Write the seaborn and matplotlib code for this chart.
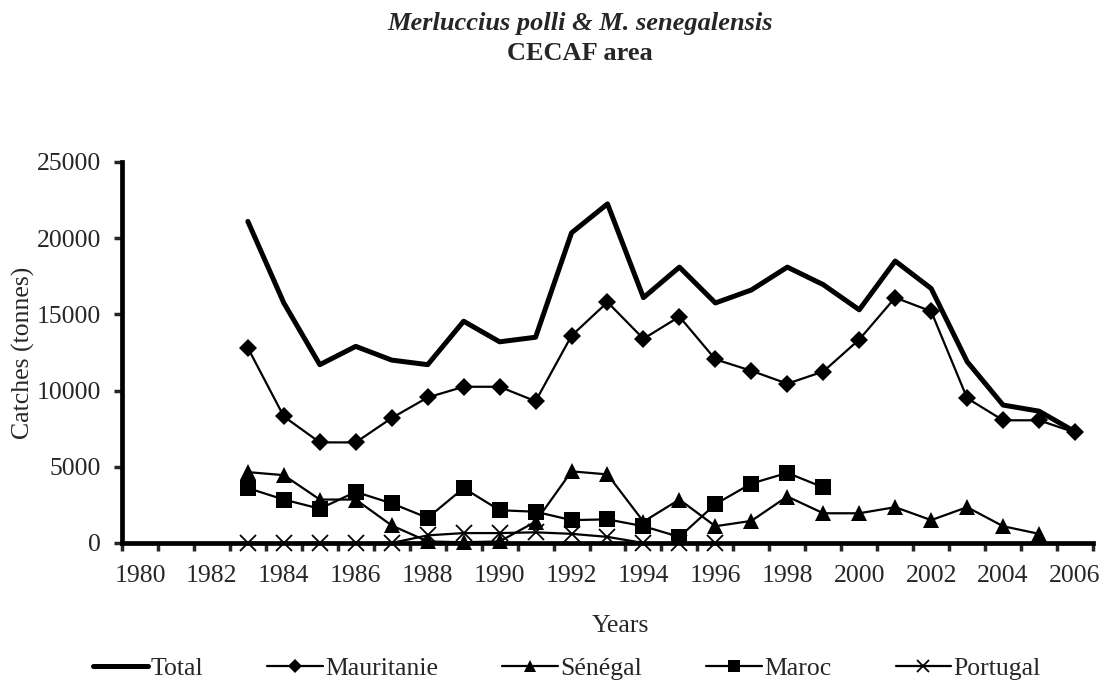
import numpy as np
import pandas as pd
import seaborn as sns
import matplotlib.pyplot as plt

years = list(range(1983, 2007))
nan = np.nan

# catches in tonnes, 1983-2006
total = [21100, 15750, 11700, 12900, 12000, 11700, 14550, 13200, 13500, 20350, 22250, 16100,
         18100, 15750, 16600, 18100, 16950, 15300, 18500, 16700, 11900, 9050, 8650, 7300]
mauritanie = [12800, 8300, 6600, 6600, 8200, 9550, 10250, 10250, 9300, 13600, 15800, 13400,
              14850, 12050, 11300, 10450, 11250, 13350, 16100, 15200, 9500, 8050, 8050, 7250]
senegal = [4650, 4450, 2850, 2850, 1150, 100, 50, 100, 1400, 4700, 4500, 1400,
           2850, 1100, 1450, 3050, 1950, 1950, 2350, 1500, 2350, 1100, 600, nan]
maroc = [3600, 2850, 2250, 3350, 2600, 1650, 3600, 2150, 2050, 1500, 1550, 1100,
         400, 2550, 3900, 4600, 3650] + [nan] * 7
portugal = [0, 0, 0, 0, 0, 500, 650, 650, 700, 600, 400, 0, 0, 0] + [nan] * 10

series = {
    "Total": total,
    "Mauritanie": mauritanie,
    "Sénégal": senegal,
    "Maroc": maroc,
    "Portugal": portugal,
}

sns.set_style("white")
plt.rcParams['font.family'] = ['Liberation Serif', 'DejaVu Serif']
fs = 18.5

fig = plt.figure(figsize=(11.11, 6.91), dpi=100)
ax = fig.add_axes([0.1098, 0.2142, 0.874, 0.5514])

styles = {
    "Total": dict(marker=None, lw=3.6),
    "Mauritanie": dict(marker="D", lw=1.6, ms=9.5),
    "Sénégal": dict(marker="^", lw=1.6, ms=11.5),
    "Maroc": dict(marker="s", lw=1.6, ms=11),
    "Portugal": dict(marker="x", lw=1.6, ms=11, mew=1.3),
}

for name, vals in series.items():
    df = pd.DataFrame({"year": years, "catch": vals}).dropna()
    st = styles[name]
    sns.lineplot(data=df, x="year", y="catch", ax=ax, color="black",
                 linewidth=st["lw"], marker=st["marker"],
                 markersize=st.get("ms", 0), markeredgewidth=st.get("mew", 0),
                 markeredgecolor="black", markerfacecolor="black",
                 label=name, clip_on=False)

ax.set_xlim(1979.5, 2006.5)
ax.set_ylim(0, 25000)
ax.set_xticks(range(1980, 2007, 2))
ax.set_xticks(np.arange(1979.5, 2007, 1), minor=True)
ax.tick_params(axis="x", which="major", length=0, labelsize=fs, pad=16)
ax.tick_params(axis="x", which="minor", length=6, width=2.5, direction="out", bottom=True)
ax.tick_params(axis="y", which="major", length=6, width=2.5, direction="out", left=True,
               labelsize=fs, pad=9)
ax.set_yticks(range(0, 25001, 5000))

for side in ["top", "right"]:
    ax.spines[side].set_visible(False)
for side in ["left", "bottom"]:
    ax.spines[side].set_linewidth(3.4)
    ax.spines[side].set_color("black")

ax.set_xlabel("Years", fontsize=fs)
ax.xaxis.set_label_coords(0.513, -0.19)
ax.set_ylabel("Catches (tonnes)", fontsize=fs)
ax.yaxis.set_label_coords(-0.09, 0.5)

fig.text(0.522, 0.966, "Merluccius polli & M. senegalensis", ha="center", va="center",
         fontsize=19, fontweight="bold", fontstyle="italic")
fig.text(0.522, 0.923, "CECAF area", ha="center", va="center", fontsize=19, fontweight="bold")

ax.legend(loc="center", bbox_to_anchor=(0.458, -0.33), ncol=5, frameon=False,
          fontsize=fs, handlelength=2.15, handletextpad=0.1, columnspacing=2.5,
          markerscale=0.75)

fig.savefig("out.png", dpi=100)
